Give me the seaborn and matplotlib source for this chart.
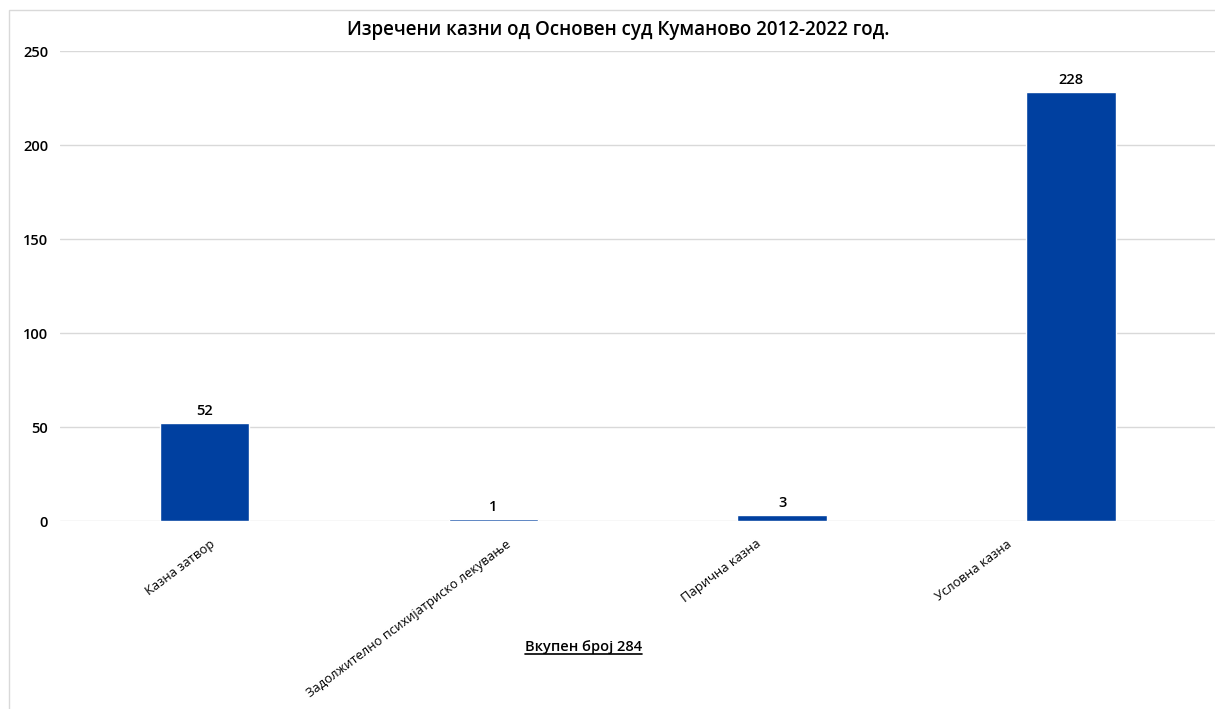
import matplotlib
matplotlib.use('Agg')
import matplotlib.pyplot as plt
import matplotlib.transforms as mtransforms
import seaborn as sns
import pandas as pd
from matplotlib.patches import Rectangle
from matplotlib.lines import Line2D

categories = ['Казна затвор', 'Задолжително психијатриско лекување', 'Парична казна', 'Условна казна']
counts = [52, 1, 3, 228]
title = 'Изречени казни од Основен суд Куманово 2012-2022 год.'
total_label = 'Вкупен број 284'
yticks = [0, 50, 100, 150, 200, 250]

df = pd.DataFrame({'category': categories, 'count': counts})

sns.set_style('white')
plt.rcParams['font.family'] = ['Open Sans', 'DejaVu Sans']
plt.rcParams['text.color'] = '#000000'

fig = plt.figure(figsize=(12.15, 7.09), dpi=100)
ax = fig.add_axes([0.0494, 0.265, 0.951, 0.663])

sns.barplot(data=df, x='category', y='count', color='#0040A0', width=0.31,
            saturation=1, ax=ax, zorder=3)

ax.set_ylim(0, 250)
ax.set_yticks(yticks)
ax.set_xlim(-0.5, 3.5)
ax.yaxis.grid(True, color='#D9D9D9', linewidth=1, zorder=0)
ax.set_axisbelow(True)
for s in ax.spines.values():
    s.set_visible(False)
ax.tick_params(axis='both', length=0, colors='#000000')
ax.tick_params(axis='y', pad=8.5, labelsize=10.5)
ax.tick_params(axis='x', pad=6)
ax.set_xlabel('')
ax.set_ylabel('')
ax.set_xticks(range(len(categories)))
ax.set_xticklabels(categories, rotation=37, ha='right', rotation_mode='anchor', fontsize=9.4)
for lbl in ax.get_yticklabels():
    lbl.set_fontweight('semibold')

# excel places the rotated labels a bit off the ticks, nudge them (pixels)
shifts = [5, 12, -27, -65]
for lbl, dx in zip(ax.get_xticklabels(), shifts):
    lbl.set_transform(lbl.get_transform() +
                      mtransforms.ScaledTranslation(dx / 100, -8 / 100, fig.dpi_scale_trans))

for c in ax.containers:
    ax.bar_label(c, labels=[str(v) for v in counts], padding=4, fontsize=10.5, fontweight='semibold')

fig.text(0.509, 0.958, title, ha='center', va='center', fontsize=13.5, fontweight='semibold')

t = fig.text(0.480, 0.087, total_label, ha='center', va='center', fontsize=10.5, fontweight='semibold')

# border around the chart area
fig.add_artist(Rectangle((9 / 1215, -0.01), 1.02, 1 - 10 / 709 + 0.01, transform=fig.transFigure,
                         fill=False, edgecolor='#D9D9D9', linewidth=1))

fig.canvas.draw()
bb = t.get_window_extent().transformed(fig.transFigure.inverted())
fig.add_artist(Line2D([bb.x0, bb.x1], [bb.y0 + 0.001, bb.y0 + 0.001],
                      transform=fig.transFigure, color='#000000', linewidth=1.2))

fig.savefig('out.png', dpi=100)
